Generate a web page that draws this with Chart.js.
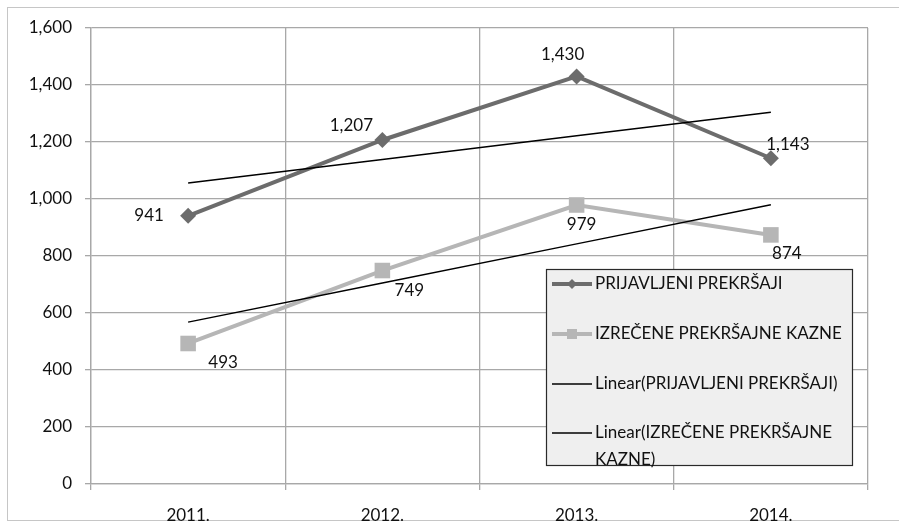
<!DOCTYPE html>
<html>
<head>
<meta charset="utf-8">
<script src="https://cdn.jsdelivr.net/npm/chart.js@4.4.1/dist/chart.umd.min.js"></script>
<style>
  html, body { margin: 0; padding: 0; background: #fff; }
  #wrap { width: 899px; height: 526px; position: relative; }
</style>
</head>
<body>
<div id="wrap"><canvas id="chart"></canvas></div>
<script>
// podaci s grafikona
const godine = ['2011.', '2012.', '2013.', '2014.'];
const prijavljeni = [941, 1207, 1430, 1143];
const izrecene = [493, 749, 979, 874];
const yTicks = [0, 200, 400, 600, 800, 1000, 1200, 1400, 1600];

const nazivi = [
    'PRIJAVLJENI PREKRŠAJI',
    'IZREČENE PREKRŠAJNE KAZNE',
    'Linear(PRIJAVLJENI PREKRŠAJI)',
    'Linear(IZREČENE PREKRŠAJNE KAZNE)'
];

// linearni trend (najmanji kvadrati), kao u Excelu
function linearTrend(values) {
    const n = values.length;
    let sx = 0, sy = 0, sxy = 0, sxx = 0;
    values.forEach((v, i) => {
        const x = i + 1;
        sx += x; sy += v; sxy += x * v; sxx += x * x;
    });
    const k = (n * sxy - sx * sy) / (n * sxx - sx * sx);
    const b = (sy - k * sx) / n;
    return values.map((v, i) => k * (i + 1) + b);
}

const FONT = 'Lato, "Open Sans", sans-serif';

// pomaci oznaka vrijednosti (dx, dy od tocke)
const labelOffsets = [
    [[-39, 0], [-31, -14], [-14, -22], [17, -14]],
    [[35, 19], [27, 20], [5, 20], [16, 19]]
];

const valueLabels = {
    id: 'valueLabels',
    afterDatasetsDraw(chart) {
        const ctx = chart.ctx;
        ctx.save();
        ctx.font = '17px ' + FONT;
        ctx.fillStyle = '#111';
        ctx.textAlign = 'center';
        ctx.textBaseline = 'middle';
        [0, 1].forEach(di => {
            const meta = chart.getDatasetMeta(di);
            meta.data.forEach((pt, i) => {
                const v = chart.data.datasets[di].data[i];
                const off = labelOffsets[di][i];
                ctx.fillText(v.toLocaleString('en-US'), pt.x + off[0], pt.y + off[1]);
            });
        });
        ctx.restore();
    }
};

const frame = {
    id: 'frame',
    beforeDraw(chart) {
        const ctx = chart.ctx;
        ctx.save();
        ctx.fillStyle = '#fff';
        ctx.fillRect(0, 0, chart.width, chart.height);
        ctx.strokeStyle = '#c6c6c6';
        ctx.lineWidth = 1;
        ctx.strokeRect(7.5, 7.5, 920, 513);
        ctx.restore();
    }
};

// legenda unutar podrucja grafa
const boxLegend = {
    id: 'boxLegend',
    afterDraw(chart) {
        const ctx = chart.ctx;
        const x0 = 546, y0 = 269, w = 306, h = 196;
        ctx.save();
        ctx.fillStyle = '#efefef';
        ctx.fillRect(x0, y0, w, h);
        ctx.strokeStyle = '#2a2a2a';
        ctx.lineWidth = 1.2;
        ctx.strokeRect(x0 + 0.5, y0 + 0.5, w, h);

        const rows = [284, 334, 384, 433];
        ctx.font = '17px ' + FONT;
        ctx.textBaseline = 'middle';
        chart.data.datasets.forEach((ds, i) => {
            const y = rows[i];
            ctx.strokeStyle = ds.borderColor;
            ctx.lineWidth = i < 2 ? 4 : 1.5;
            ctx.beginPath();
            ctx.moveTo(552, y);
            ctx.lineTo(592, y);
            ctx.stroke();
            if (i === 0) {
                ctx.fillStyle = ds.borderColor;
                ctx.beginPath();
                ctx.moveTo(572, y - 5); ctx.lineTo(577, y); ctx.lineTo(572, y + 5); ctx.lineTo(567, y);
                ctx.closePath(); ctx.fill();
            } else if (i === 1) {
                ctx.fillStyle = ds.borderColor;
                ctx.fillRect(567, y - 5, 10, 10);
            }
            ctx.fillStyle = '#111';
            // prelamanje teksta
            const words = ds.label.split(' ');
            let line = '', ly = y;
            words.forEach(word => {
                const test = line ? line + ' ' + word : word;
                if (ctx.measureText(test).width > 256 && line) {
                    ctx.fillText(line, 595, ly);
                    line = word;
                    ly += 27;
                } else {
                    line = test;
                }
            });
            ctx.fillText(line, 595, ly);
        });
        ctx.restore();
    }
};

new Chart(document.getElementById('chart'), {
    type: 'line',
    data: {
        labels: godine,
        datasets: [
            {
                label: nazivi[0],
                data: prijavljeni,
                borderColor: '#6c6c6c',
                backgroundColor: '#6c6c6c',
                borderWidth: 4,
                pointStyle: 'rectRot',
                pointRadius: 8,
                pointBorderWidth: 0,
                order: 2
            },
            {
                label: nazivi[1],
                data: izrecene,
                borderColor: '#b6b6b6',
                backgroundColor: '#b6b6b6',
                borderWidth: 4,
                pointStyle: 'rect',
                pointRadius: 11,
                pointBorderWidth: 0,
                order: 3
            },
            {
                label: nazivi[2],
                data: linearTrend(prijavljeni),
                borderColor: '#000',
                borderWidth: 1.4,
                pointRadius: 0,
                order: 1
            },
            {
                label: nazivi[3],
                data: linearTrend(izrecene),
                borderColor: '#000',
                borderWidth: 1.4,
                pointRadius: 0,
                order: 0
            }
        ]
    },
    options: {
        responsive: true,
        maintainAspectRatio: false,
        animation: false,
        layout: { padding: { top: 28, right: 31, left: 0, bottom: 0 } },
        plugins: {
            legend: { display: false },
            tooltip: { enabled: false }
        },
        scales: {
            x: {
                offset: true,
                grid: { offset: true, color: '#a8a8a8', lineWidth: 1.3, tickLength: 6 },
                border: { color: '#a8a8a8', width: 1.3 },
                ticks: { color: '#111', font: { family: FONT, size: 17 }, padding: 15 },
                afterFit(scale) { scale.height = 42; }
            },
            y: {
                min: 0,
                max: 1600,
                afterBuildTicks(scale) { scale.ticks = yTicks.map(v => ({ value: v })); },
                grid: { color: '#a8a8a8', lineWidth: 1.3, tickLength: 6 },
                border: { color: '#a8a8a8', width: 1.3 },
                ticks: { color: '#111', font: { family: FONT, size: 17 }, padding: 13 },
                afterFit(scale) { scale.width = 91; }
            }
        }
    },
    plugins: [frame, valueLabels, boxLegend]
});
</script>
</body>
</html>
